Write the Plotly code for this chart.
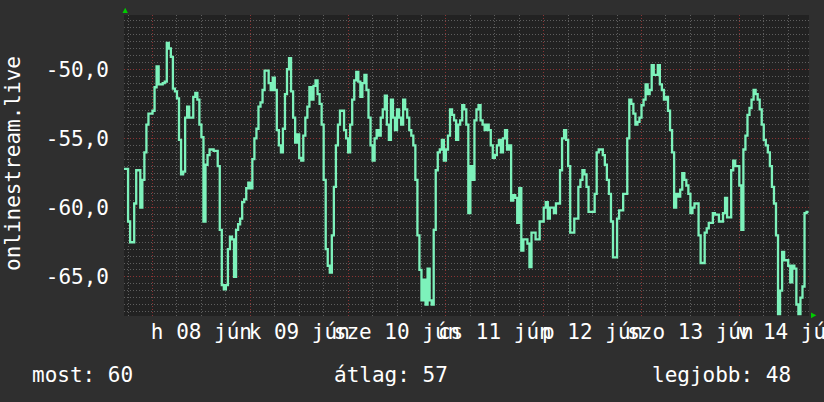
import plotly.graph_objects as go
from datetime import datetime, timedelta

# ---- data: 30-minute samples, signal level (dBm) ----
START = datetime(2020, 6, 7, 17, 0)
END = datetime(2020, 6, 14, 17, 6)
STEP_MIN = 30

jun07 = [-57.2, -57.2, -61.0, -62.5, -62.5, -59.7, -57.3, -57.3, -60.0, -58.0,
         -56.0, -54.0, -53.2, -53.2]
jun08 = [-53.0, -51.3, -49.8, -51.1, -51.1, -51.0, -50.9, -48.1, -48.5, -49.1,
         -51.4, -51.6, -52.1, -55.1, -57.6, -57.4, -53.5, -52.7, -53.5, -53.5,
         -52.0, -51.7, -52.2, -54.0, -54.9, -61.0, -56.9, -56.2, -55.8, -55.8,
         -55.9, -55.9, -57.0, -61.6, -65.6, -65.9, -65.6, -63.0, -62.1, -62.3,
         -65.0, -61.6, -61.2, -60.8, -59.6, -59.4, -58.6, -58.2]
jun09 = [-58.6, -56.5, -55.0, -54.3, -52.7, -52.4, -51.5, -50.1, -50.1, -51.0,
         -51.5, -50.6, -51.5, -54.4, -55.5, -56.0, -54.3, -51.8, -50.0, -49.2,
         -51.6, -53.5, -55.3, -54.7, -56.4, -56.6, -54.8, -53.5, -52.7, -51.3,
         -52.2, -51.2, -50.8, -51.8, -52.5, -54.0, -58.0, -63.0, -64.2, -64.7,
         -62.0, -58.5, -55.5, -54.0, -53.0, -53.0, -54.4, -55.0]
jun10 = [-56.0, -54.0, -52.2, -50.8, -50.2, -50.9, -52.0, -51.0, -50.4, -51.5,
         -53.5, -55.5, -56.6, -55.0, -54.4, -54.8, -53.5, -52.9, -51.9, -54.0,
         -55.1, -52.2, -53.5, -54.4, -52.9, -53.5, -54.0, -52.2, -52.9, -53.5,
         -54.4, -54.8, -55.5, -58.0, -62.0, -64.5, -66.7, -65.2, -67.0, -64.4,
         -66.7, -67.0, -61.6, -57.3, -56.0, -55.8, -55.1, -56.6]
jun11 = [-55.8, -54.8, -52.9, -53.3, -53.7, -55.1, -54.0, -53.7, -52.6, -52.9,
         -54.0, -60.4, -57.0, -58.0, -53.7, -52.9, -52.6, -53.7, -54.0, -54.4,
         -54.0, -54.4, -55.5, -56.4, -56.2, -55.5, -55.1, -56.0, -55.0, -54.4,
         -55.8, -55.5, -59.5, -59.1, -59.3, -61.1, -58.6, -63.1, -62.3, -62.3,
         -62.6, -64.3, -61.8, -61.8, -62.3, -62.3, -61.0, -61.0]
jun12 = [-60.0, -59.6, -60.8, -60.0, -60.0, -60.4, -59.7, -59.7, -57.3, -55.0,
         -54.4, -55.1, -57.0, -61.8, -61.8, -60.8, -60.8, -58.5, -58.0, -57.3,
         -57.6, -58.5, -60.3, -60.3, -60.3, -59.0, -56.0, -55.8, -55.8, -56.2,
         -56.9, -58.0, -59.0, -61.0, -63.6, -63.6, -60.8, -60.2, -60.2, -59.0,
         -59.0, -55.0, -52.2, -52.5, -53.2, -54.0, -53.8, -53.5]
jun13 = [-52.6, -52.2, -51.1, -51.8, -51.5, -49.7, -50.4, -50.4, -49.7, -51.1,
         -51.5, -52.2, -52.0, -53.0, -54.4, -56.0, -60.0, -59.0, -59.2, -58.7,
         -57.5, -58.0, -58.4, -59.0, -60.4, -60.0, -59.7, -59.7, -62.0, -64.0,
         -64.0, -61.8, -61.5, -61.1, -61.1, -60.4, -60.5, -60.5, -61.0, -61.0,
         -60.4, -59.3, -60.7, -60.7, -57.3, -56.6, -57.0, -57.0]
jun14 = [-58.4, -61.6, -55.8, -54.8, -53.3, -52.8, -52.2, -51.5, -51.8, -52.2,
         -52.9, -54.0, -55.1, -55.5, -56.0, -57.0, -58.5, -59.7, -62.0, -67.7,
         -66.0, -63.2, -63.8, -63.8, -64.2, -65.4, -64.2, -64.4, -67.0, -67.7,
         -66.5, -65.7, -60.4, -60.3, -60.3]

values = jun07 + jun08 + jun09 + jun10 + jun11 + jun12 + jun13 + jun14
times = [START + timedelta(minutes=STEP_MIN * i) for i in range(len(values))]

day_labels = ["h 08 jún", "k 09 jún", "sze 10 jún", "cs 11 jún",
              "p 12 jún", "szo 13 jún", "v 14 jún"]
label_times = [datetime(2020, 6, 8, 12) + timedelta(days=i) for i in range(len(day_labels))]

y_ticks = [-65, -60, -55, -50]
y_ticktext = ["-65,0", "-60,0", "-55,0", "-50,0"]
Y_RANGE = [-67.83, -46.08]

legend_texts = ["most: 60", "átlag: 57", "legjobb: 48"]
y_title = "onlinestream.live"

# ---- layout geometry (pixels) ----
W, H = 824, 402
ML, MR, MT, MB = 124, 15, 15, 86
PW, PH = W - ML - MR, H - MT - MB

def px(x):
    return (x - ML) / PW

def py(y):
    return (H - MB - y) / PH

FONT = "DejaVu Sans Mono"
FS = 21
TXT = "#ffffff"
RED = "#8a3434"
GRAY = "#5e5e5e"
DASH = "1px,2px"

fig = go.Figure()
fig.add_trace(go.Scatter(
    x=times, y=values, mode="lines", line=dict(color="#7df2bb", width=2.3, shape="hv"),
    hoverinfo="skip", showlegend=False))
# carrier for the day-label axis (draws nothing)
fig.add_trace(go.Scatter(
    x=[START], y=[None], xaxis="x2", yaxis="y", mode="lines",
    hoverinfo="skip", showlegend=False))

fig.update_layout(
    width=W, height=H, margin=dict(l=ML, r=MR, t=MT, b=MB, pad=0),
    paper_bgcolor="#2f2f2f", plot_bgcolor="#222222",
    template="none", showlegend=False,
    xaxis=dict(
        type="date", range=[START, END],
        tick0="2020-06-08", dtick=86400000,
        showgrid=True, gridcolor=RED, griddash=DASH, gridwidth=1,
        showticklabels=False, ticks="", zeroline=False, showline=False,
        minor=dict(dtick=21600000, tick0="2020-06-08", showgrid=True,
                   gridcolor=GRAY, griddash=DASH, gridwidth=1, ticks=""),
    ),
    xaxis2=dict(
        type="date", overlaying="x", matches="x", anchor="y", side="bottom",
        tickmode="array", tickvals=label_times, ticktext=day_labels,
        tickangle=0, showgrid=False, ticks="", zeroline=False, showline=False,
        ticklabeloverflow="allow",
        tickfont=dict(family=FONT, size=FS, color=TXT), ticklabelstandoff=1,
    ),
    yaxis=dict(
        range=Y_RANGE, tickmode="array", tickvals=y_ticks, ticktext=y_ticktext,
        showgrid=True, gridcolor=RED, griddash=DASH, gridwidth=1,
        ticks="", zeroline=False, showline=False,
        tickfont=dict(family=FONT, size=FS, color=TXT), ticklabelstandoff=14,
        minor=dict(dtick=0.5, tick0=-50, showgrid=True, gridcolor=GRAY,
                   griddash=DASH, gridwidth=1, ticks=""),
    ),
)

annotations = [
    dict(text=y_title, xref="paper", yref="paper", x=px(12.5), y=py(163.5),
         textangle=-90, xanchor="center", yanchor="middle", showarrow=False,
         font=dict(family=FONT, size=FS, color=TXT)),
    dict(text=legend_texts[0], xref="paper", yref="paper", x=px(30), y=py(374.5),
         xanchor="left", yanchor="middle", showarrow=False,
         font=dict(family=FONT, size=FS, color=TXT)),
    dict(text=legend_texts[1], xref="paper", yref="paper", x=px(332), y=py(374.5),
         xanchor="left", yanchor="middle", showarrow=False,
         font=dict(family=FONT, size=FS, color=TXT)),
    dict(text=legend_texts[2], xref="paper", yref="paper", x=px(793), y=py(374.5),
         xanchor="right", yanchor="middle", showarrow=False,
         font=dict(family=FONT, size=FS, color=TXT)),
]
fig.update_layout(annotations=annotations)

ARROW = "#00cc00"
def tri(points):
    d = "M " + " L ".join(f"{px(a)},{py(b)}" for a, b in points) + " Z"
    return dict(type="path", path=d, xref="paper", yref="paper",
                fillcolor=ARROW, line=dict(width=0), layer="above")

fig.update_layout(shapes=[
    tri([(122.5, 13), (127.9, 13), (125.2, 7.8)]),
    tri([(811, 312.5), (811, 318.2), (816.3, 315.3)]),
])

fig.write_html("out.html")
